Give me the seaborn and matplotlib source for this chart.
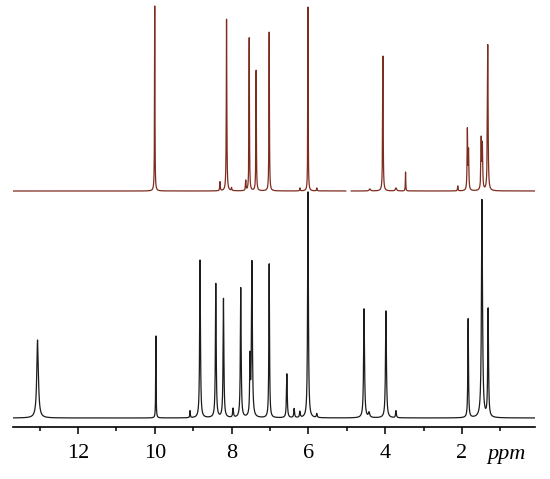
#!/usr/bin/env python3
"""Stacked 1H NMR spectra (upper: brown trace, lower: black trace) on a reversed ppm axis."""
import numpy as np
import pandas as pd
import matplotlib
matplotlib.use("Agg")
import matplotlib.pyplot as plt
from matplotlib.ticker import MultipleLocator
import seaborn as sns

# Peak lists: position (ppm), height (a.u.), half width (ppm)
upper_ppm = [10.00, 8.30, 8.13, 8.00, 7.63, 7.54, 7.36, 7.02, 6.22, 6.01, 5.78,
             4.40, 4.06, 3.72, 3.47, 2.11, 1.86, 1.83, 1.50, 1.47, 1.33]
upper_height = [185, 9, 172, 3, 10, 153, 121, 159, 3, 184, 3,
                2, 135, 3, 19, 5, 60, 38, 50, 44, 146]
upper_hwhm = [0.006, 0.008, 0.008, 0.008, 0.008, 0.007, 0.007, 0.007, 0.008, 0.006, 0.008,
              0.02, 0.008, 0.02, 0.006, 0.008, 0.009, 0.009, 0.01, 0.01, 0.01]

lower_ppm = [13.05, 9.97, 9.08, 8.82, 8.41, 8.21, 7.96, 7.76, 7.52, 7.47, 7.02,
             6.56, 6.37, 6.22, 6.01, 5.78, 4.55, 4.42, 3.98, 3.72, 1.84, 1.48, 1.32]
lower_height = [78, 82, 7, 158, 134, 119, 9, 130, 55, 155, 154,
                44, 9, 6, 226, 4, 109, 5, 107, 7, 99, 218, 108]
lower_hwhm = [0.025, 0.006, 0.008, 0.012, 0.012, 0.012, 0.012, 0.012, 0.01, 0.014, 0.01,
              0.012, 0.012, 0.012, 0.012, 0.012, 0.014, 0.02, 0.014, 0.012, 0.01, 0.016, 0.012]

# Region cut out of the upper spectrum (ppm)
upper_gap = (5.02, 4.89)

XMIN, XMAX = 13.69, 0.10
UPPER_OFFSET = 236.0
LOWER_OFFSET = 9.0
UPPER_COLOR = "#7e2c1e"
LOWER_COLOR = "#1c1c1c"


def spectrum(x, centers, heights, widths):
    y = np.zeros_like(x)
    for c, h, w in zip(centers, heights, widths):
        y += h * w ** 2 / ((x - c) ** 2 + w ** 2)
    return y


ppm = np.linspace(XMAX, XMIN, 14000)
up = spectrum(ppm, upper_ppm, upper_height, upper_hwhm) + UPPER_OFFSET
low = spectrum(ppm, lower_ppm, lower_height, lower_hwhm) + LOWER_OFFSET

in_gap = (ppm <= upper_gap[0]) & (ppm >= upper_gap[1])
up_seg = np.where(ppm > upper_gap[0], "upper_a", "upper_b")

frames = [
    pd.DataFrame({"ppm": ppm[~in_gap], "intensity": up[~in_gap],
                  "trace": "upper", "segment": up_seg[~in_gap]}),
    pd.DataFrame({"ppm": ppm, "intensity": low, "trace": "lower", "segment": "lower"}),
]
df = pd.concat(frames, ignore_index=True)

sns.set_style("white")
plt.rcParams["font.family"] = ["Liberation Serif", "DejaVu Serif"]
plt.rcParams["text.color"] = "black"
plt.rcParams["xtick.labelcolor"] = "black"

fig = plt.figure(figsize=(5.5, 4.79), dpi=100)
ax = fig.add_axes([13 / 550, 1 - 427 / 479, 522 / 550, 427 / 479])

sns.lineplot(data=df, x="ppm", y="intensity", hue="trace", units="segment",
             estimator=None, sort=False, legend=False,
             palette={"upper": UPPER_COLOR, "lower": LOWER_COLOR},
             linewidth=0.9, ax=ax)

ax.set_xlim(XMIN, XMAX)
ax.set_ylim(0, 427)
ax.set_xlabel("")
ax.set_ylabel("")
ax.set_yticks([])

for side in ("top", "right", "left"):
    ax.spines[side].set_visible(False)
ax.spines["bottom"].set_linewidth(1.2)
ax.spines["bottom"].set_color("black")

ax.xaxis.set_major_locator(MultipleLocator(2))
ax.xaxis.set_minor_locator(MultipleLocator(1))
ax.tick_params(axis="x", which="major", direction="out", length=5, width=1.1,
               color="black", labelcolor="black", labelsize=16, pad=7, bottom=True)
ax.tick_params(axis="x", which="minor", direction="out", length=3, width=1.1,
               color="black", bottom=True)

ax.text(487 / 550, 1 - 459 / 479, "ppm", transform=fig.transFigure, fontsize=16,
        style="italic", color="black", ha="left", va="baseline")

fig.savefig("out.png", dpi=100)
plt.close(fig)
